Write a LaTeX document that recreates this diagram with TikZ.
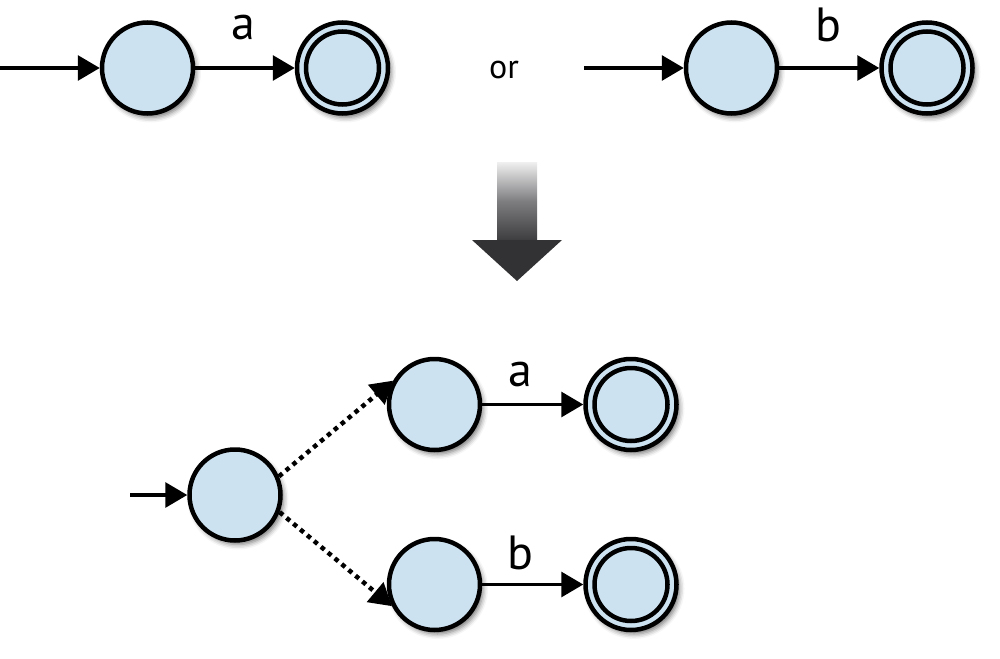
\documentclass[tikz,border=0pt]{standalone}
\usepackage{fontspec}
\setmainfont{PT Sans}
\usetikzlibrary{arrows.meta,shadows.blur}
\definecolor{stfill}{RGB}{204,226,241}
\definecolor{arrtop}{RGB}{240,240,240}
\definecolor{arrmid}{RGB}{125,125,128}
\definecolor{arrbot}{RGB}{60,60,62}
\definecolor{headc}{RGB}{50,50,52}
\begin{document}
\begin{tikzpicture}[x=1pt,y=-1pt,
  st/.style={circle,draw,line width=4.5pt,fill=stfill,minimum size=91pt,inner sep=0pt,
    blur shadow={shadow xshift=3pt,shadow yshift=-4pt,shadow blur radius=5pt,shadow opacity=55}},
  tr/.style={line width=3.2pt,-{Triangle[length=22pt,width=25pt]}},
  ep/.style={line width=4.5pt,dash pattern=on 4.5pt off 4.5pt,-{Triangle[length=22pt,width=25pt]}},
  lbl/.style={font=\fontsize{48}{48}\selectfont,inner sep=0pt},
  orl/.style={font=\fontsize{34}{34}\selectfont,inner sep=0pt},
  inner/.style={line width=4.5pt}
]
\useasboundingbox (0,0) rectangle (1000,658);

% top left
\coordinate (in1) at (0,68);
\node[st] (a1) at (147.5,68) {};
\node[st] (a2) at (342.5,68) {};
\draw[inner] (a2.center) circle (36.5);
\draw[tr] (in1) -- (a1);
\draw[tr] (a1) -- (a2);
\node[lbl] (la) at (243,28) {a};

\node[orl] (or) at (504,70) {or};

% top right
\coordinate (in2) at (584,68);
\node[st] (b1) at (731.5,68) {};
\node[st] (b2) at (927,68) {};
\draw[inner] (b2.center) circle (36.5);
\draw[tr] (in2) -- (b1);
\draw[tr] (b1) -- (b2);
\node[lbl] (lb) at (828,25) {b};

% big arrow
\shade[top color=arrtop,bottom color=arrbot,middle color=arrmid] (497,162) rectangle (537,241);
\fill[headc] (472,240) -- (562,240) -- (517,281) -- cycle;

% bottom
\coordinate (in3) at (130,495);
\node[st] (s) at (235,495) {};
\node[st] (m1) at (434.5,404.5) {};
\node[st] (f1) at (631,404.5) {};
\draw[inner] (f1.center) circle (36.5);
\node[st] (m2) at (434.5,584.5) {};
\node[st] (f2) at (631,584.5) {};
\draw[inner] (f2.center) circle (36.5);
\draw[tr] (in3) -- (s);
\draw[ep] (s.23) -- (m1.150);
\draw[ep] (s.-21) -- (m2.-153);
\draw[tr] (m1) -- (f1);
\draw[tr] (m2) -- (f2);
\node[lbl] (la2) at (520,374) {a};
\node[lbl] (lb2) at (520,553) {b};
\end{tikzpicture}
\end{document}
